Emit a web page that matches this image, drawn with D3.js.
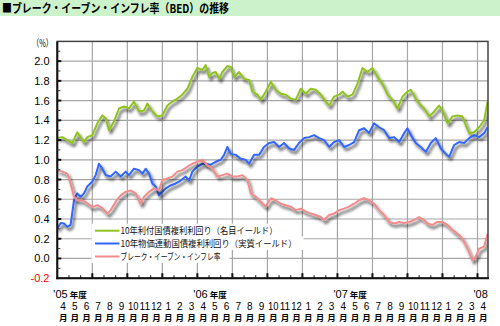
<!DOCTYPE html>
<html><head><meta charset="utf-8">
<script src="https://cdn.jsdelivr.net/npm/d3@7"></script>
<style>
html,body{margin:0;padding:0;background:#fff;}
svg{display:block;font-family:"Noto Sans CJK JP","Liberation Sans",sans-serif;}
</style></head>
<body>
<svg id="c" width="500" height="326"></svg>
<script>
// time axis: months elapsed since 1 April 2005
const titleText = "■ブレーク・イーブン・インフレ率（BED）の推移";
const seriesNames = ["10年利付国債複利利回り（名目イールド）","10年物価連動国債複利利回り（実質イールド）","ブレーク・イーブン・インフレ率"];
const seriesColors = ["#8fc31f","#3366ff","#f28c8c"];
const yTicks = [-0.2,0.0,0.2,0.4,0.6,0.8,1.0,1.2,1.4,1.6,1.8,2.0];
const monthLabels = ["4","5","6","7","8","9","10","11","12","1","2","3",
                     "4","5","6","7","8","9","10","11","12","1","2","3",
                     "4","5","6","7","8","9","10","11","12","1","2","3","4"];
const fyLabels = [["'05","年度"],["'06","年度"],["'07","年度"],["'08",""]];
const fyStartMonths = [0,12,24,36];

const nominal = [[0,1.22],[0.43,1.23],[0.86,1.20],[1.29,1.17],[1.71,1.28],[2.14,1.20],[2.29,1.18],[2.57,1.23],[3.0,1.25],[3.43,1.37],[3.86,1.45],[4.14,1.42],[4.43,1.30],[4.86,1.39],[5.29,1.52],[5.71,1.54],[6.14,1.52],[6.57,1.59],[7.0,1.49],[7.43,1.50],[7.71,1.57],[8.14,1.49],[8.57,1.44],[9.0,1.45],[9.43,1.55],[9.86,1.59],[10.29,1.62],[10.71,1.66],[11.14,1.72],[11.57,1.84],[12.0,1.93],[12.43,1.91],[12.71,1.96],[13.0,1.84],[13.29,1.88],[13.57,1.89],[13.86,1.82],[14.14,1.89],[14.57,1.95],[14.86,1.94],[15.14,1.84],[15.57,1.89],[16.0,1.82],[16.43,1.81],[16.71,1.69],[17.14,1.66],[17.43,1.61],[17.86,1.69],[18.29,1.79],[18.71,1.71],[19.14,1.67],[19.57,1.66],[20.0,1.62],[20.43,1.61],[20.86,1.72],[21.29,1.67],[21.71,1.72],[22.14,1.71],[22.57,1.66],[23.0,1.59],[23.29,1.55],[23.71,1.64],[24.14,1.66],[24.43,1.69],[24.86,1.64],[25.29,1.66],[25.71,1.77],[26.14,1.93],[26.57,1.89],[27.0,1.93],[27.43,1.84],[27.86,1.77],[28.29,1.66],[28.71,1.61],[29.14,1.52],[29.57,1.64],[30.0,1.69],[30.29,1.71],[30.71,1.62],[31.0,1.57],[31.43,1.52],[31.86,1.44],[32.29,1.49],[32.71,1.55],[33.0,1.50],[33.43,1.37],[33.86,1.44],[34.29,1.45],[34.71,1.44],[35.0,1.35],[35.29,1.27],[35.71,1.28],[36.14,1.33],[36.57,1.40],[36.86,1.59]];

const real = [[0,0.30],[0.29,0.36],[0.57,0.355],[0.86,0.32],[1.14,0.34],[1.43,0.59],[1.71,0.66],[2.0,0.625],[2.29,0.66],[2.57,0.73],[3.0,0.78],[3.29,0.845],[3.57,0.96],[3.86,0.91],[4.14,0.845],[4.57,0.83],[5.0,0.88],[5.43,0.83],[5.86,0.88],[6.14,0.845],[6.57,0.91],[7.0,0.895],[7.29,0.86],[7.57,0.91],[7.86,0.86],[8.14,0.76],[8.43,0.73],[8.71,0.64],[8.86,0.66],[9.29,0.71],[9.71,0.74],[10.14,0.76],[10.57,0.79],[11.0,0.83],[11.29,0.79],[11.57,0.88],[12.0,0.93],[12.43,0.96],[12.71,0.96],[13.14,0.95],[13.57,0.98],[14.0,1.00],[14.29,1.05],[14.57,1.13],[14.86,1.06],[15.29,1.05],[15.71,1.01],[16.14,1.00],[16.43,0.96],[16.86,1.05],[17.29,1.05],[17.71,1.13],[18.14,1.17],[18.57,1.18],[19.0,1.13],[19.43,1.17],[19.86,1.115],[20.29,1.10],[20.71,1.17],[21.14,1.22],[21.57,1.23],[22.0,1.25],[22.43,1.22],[22.86,1.20],[23.29,1.13],[23.71,1.18],[24.14,1.20],[24.57,1.13],[25.0,1.15],[25.43,1.18],[25.86,1.30],[26.29,1.32],[26.71,1.27],[27.14,1.37],[27.57,1.33],[28.0,1.30],[28.43,1.22],[28.86,1.23],[29.29,1.18],[29.71,1.27],[30.0,1.32],[30.29,1.25],[30.71,1.17],[31.14,1.13],[31.57,1.08],[32.0,1.17],[32.43,1.22],[32.86,1.115],[33.29,1.06],[33.57,1.03],[34.0,1.15],[34.43,1.18],[34.86,1.17],[35.29,1.22],[35.71,1.25],[36.14,1.23],[36.57,1.27],[36.86,1.33]];

const bei = [[0,0.895],[0.43,0.88],[0.86,0.86],[1.14,0.76],[1.43,0.625],[1.71,0.59],[2.14,0.59],[2.57,0.56],[3.0,0.52],[3.43,0.54],[3.86,0.51],[4.29,0.455],[4.57,0.49],[5.0,0.575],[5.43,0.64],[5.86,0.675],[6.29,0.69],[6.71,0.66],[7.14,0.555],[7.43,0.625],[7.86,0.675],[8.29,0.71],[8.71,0.69],[9.0,0.795],[9.43,0.81],[9.86,0.83],[10.29,0.88],[10.71,0.895],[11.14,0.93],[11.57,0.96],[12.0,0.98],[12.43,1.00],[12.86,0.945],[13.29,0.91],[13.71,0.83],[14.14,0.845],[14.57,0.86],[15.0,0.83],[15.43,0.83],[15.86,0.845],[16.29,0.795],[16.57,0.66],[17.0,0.625],[17.43,0.575],[17.86,0.525],[18.29,0.61],[18.71,0.59],[19.14,0.555],[19.57,0.54],[20.0,0.525],[20.43,0.49],[20.86,0.505],[21.29,0.475],[21.71,0.455],[22.14,0.44],[22.57,0.42],[22.86,0.39],[23.29,0.44],[23.71,0.455],[24.14,0.49],[24.57,0.505],[25.0,0.525],[25.43,0.555],[25.86,0.59],[26.29,0.61],[26.71,0.59],[27.14,0.555],[27.57,0.49],[28.0,0.44],[28.43,0.37],[28.86,0.355],[29.29,0.37],[29.71,0.36],[30.14,0.37],[30.57,0.39],[31.0,0.42],[31.43,0.39],[31.71,0.355],[32.14,0.34],[32.57,0.37],[33.0,0.37],[33.43,0.34],[33.86,0.29],[34.29,0.25],[34.71,0.20],[35.14,0.10],[35.57,-0.02],[35.86,0.02],[36.14,0.10],[36.57,0.12],[36.86,0.25]];

const svg = d3.select("#c");
const X0 = 57.3, X1 = 488, Y0 = 41.4, Y1 = 278.2;
const x = d3.scaleLinear().domain([0, 36.9]).range([X0, X1]);
const y = d3.scaleLinear().domain([-0.2, 2.2]).range([Y1, Y0]);

const defs = svg.append("defs");
const f = defs.append("filter").attr("id","sh").attr("x","-10%").attr("y","-10%").attr("width","120%").attr("height","130%");
f.append("feDropShadow").attr("dx",2).attr("dy",3).attr("stdDeviation",1.7).attr("flood-color","#000").attr("flood-opacity",0.7);
defs.append("clipPath").attr("id","clip").append("rect").attr("x",X0).attr("y",Y0).attr("width",X1-X0).attr("height",Y1-Y0);

// title bar
svg.append("rect").attr("x",0).attr("y",0).attr("width",500).attr("height",16).attr("fill","#ccf2cc");
svg.append("text").attr("x",2).attr("y",12.5).attr("font-size",12).attr("font-weight","bold")
  .attr("textLength",227).attr("lengthAdjust","spacingAndGlyphs").attr("fill","#000").text(titleText);

// gridlines
const gridY = yTicks.filter(v => v > -0.2);
svg.append("g").selectAll("line").data(gridY).join("line")
  .attr("x1",X0).attr("x2",X1).attr("y1",d=>y(d)).attr("y2",d=>y(d))
  .attr("stroke","#a6a6a6").attr("stroke-width",1.2);
const quarterMonths = d3.range(3, 37, 3);
svg.append("g").selectAll("line").data(quarterMonths).join("line")
  .attr("x1",d=>x(d)).attr("x2",d=>x(d)).attr("y1",Y0).attr("y2",Y1)
  .attr("stroke","#a6a6a6").attr("stroke-width",1.2);

// legend background boxes
const lg = svg.append("g");
const legendRows = [
  {y:230.7, w:189, tl:157},
  {y:243.5, w:212, tl:176},
  {y:256.5, w:138, tl:100}
];
legendRows.forEach((r,i)=>{
  lg.append("rect").attr("x",91.5).attr("y",r.y-7).attr("width",r.w).attr("height",13.5).attr("fill","#fff");
});

// lines
const line = d3.line().x(d=>x(d[0])).y(d=>y(d[1]));
const gl = svg.append("g").attr("clip-path","url(#clip)");
[nominal, real, bei].forEach((s,i)=>{
  gl.append("path").datum(s).attr("d",line).attr("fill","none")
    .attr("stroke",seriesColors[i]).attr("stroke-width",2).attr("stroke-linejoin","round")
    .attr("filter","url(#sh)");
});

// legend
legendRows.forEach((r,i)=>{
  lg.append("line").attr("x1",95).attr("x2",119.5).attr("y1",r.y).attr("y2",r.y)
    .attr("stroke",seriesColors[i]).attr("stroke-width",2);
  lg.append("text").attr("x",120.5).attr("y",r.y+3.3).attr("font-size",9)
    .attr("textLength",r.tl).attr("lengthAdjust","spacingAndGlyphs").attr("fill","#111").text(seriesNames[i]);
});

// frame
svg.append("rect").attr("x",X0).attr("y",Y0).attr("width",X1-X0).attr("height",Y1-Y0)
  .attr("fill","none").attr("stroke","#444").attr("stroke-width",1.5);
svg.append("line").attr("x1",X0).attr("x2",X0).attr("y1",Y0).attr("y2",Y1+1).attr("stroke","#111").attr("stroke-width",2);
svg.append("line").attr("x1",X0-1).attr("x2",X1+1).attr("y1",Y1).attr("y2",Y1).attr("stroke","#111").attr("stroke-width",2);

// y ticks (inner) major & minor
const minorY = d3.range(-0.1, 2.2, 0.2);
svg.append("g").selectAll("line").data(gridY).join("line")
  .attr("x1",X0).attr("x2",X0+4).attr("y1",d=>y(d)).attr("y2",d=>y(d)).attr("stroke","#111").attr("stroke-width",2);
svg.append("g").selectAll("line").data(minorY).join("line")
  .attr("x1",X0).attr("x2",X0+3).attr("y1",d=>y(d)).attr("y2",d=>y(d)).attr("stroke","#333").attr("stroke-width",1);

// x ticks (inner)
svg.append("g").selectAll("line").data(d3.range(1,37)).join("line")
  .attr("x1",d=>x(d)).attr("x2",d=>x(d)).attr("y1",Y1).attr("y2",d=> d%3===0 ? Y1-5 : Y1-3)
  .attr("stroke","#111").attr("stroke-width",d=> d%3===0 ? 2 : 1);

// y labels
svg.append("g").selectAll("text").data(yTicks).join("text")
  .attr("x",49.5).attr("y",d=>y(d)+4).attr("text-anchor","end").attr("font-size",11)
  .attr("font-family","Liberation Sans, Arial, sans-serif")
  .attr("fill",d=> d<0 ? "#ff0000" : "#000").text(d=>d.toFixed(1));
svg.append("text").attr("x",53).attr("y",47).attr("text-anchor","end").attr("font-size",10).attr("fill","#000").text("（%）")
  .attr("textLength",21).attr("lengthAdjust","spacingAndGlyphs");

// fiscal year labels
fyLabels.forEach((l,i)=>{
  const t = svg.append("text").attr("x",x(fyStartMonths[i])-4).attr("y",297.5).attr("fill","#000");
  t.append("tspan").attr("font-size",11).attr("font-family","Liberation Sans, Arial, sans-serif").text(l[0]);
  if (l[1]) t.append("tspan").attr("dx",2).attr("font-size",8.5).attr("font-weight","bold").text(l[1]);
});

// month labels
const ml = svg.append("g").attr("fill","#000");
monthLabels.forEach((m,i)=>{
  const cx = x(i+0.5);
  const t = ml.append("text").attr("x",cx).attr("y",309.5).attr("text-anchor","middle").attr("font-size",10)
    .attr("font-family","Liberation Sans, Arial, sans-serif").text(m);
  if (m.length>1) t.attr("textLength",10.5).attr("lengthAdjust","spacingAndGlyphs");
  ml.append("text").attr("x",cx).attr("y",321).attr("text-anchor","middle").attr("font-size",8.5).attr("font-weight","bold").text("月");
});
</script>
</body></html>
